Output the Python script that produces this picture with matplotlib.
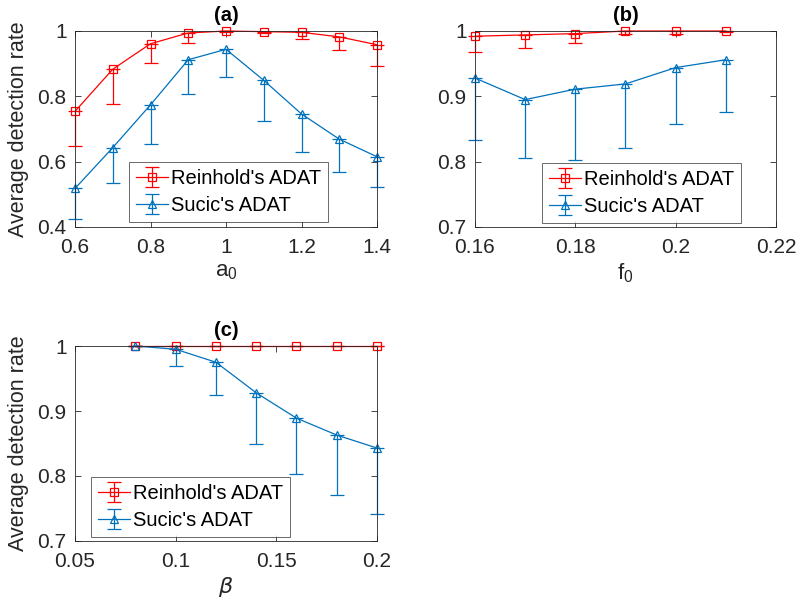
import numpy as np
import matplotlib
matplotlib.use("Agg")
import matplotlib.pyplot as plt
from matplotlib.ticker import FuncFormatter

plt.rcParams['font.family'] = ['Liberation Sans', 'DejaVu Sans']
plt.rcParams['mathtext.fontset'] = 'dejavusans'

RED = '#FF0000'
BLUE = '#0072BD'

# ---- panel (a): a0 ----
a_x = [0.6, 0.7, 0.8, 0.9, 1.0, 1.1, 1.2, 1.3, 1.4]
a_rein = [0.754, 0.883, 0.961, 0.994, 1.0, 0.998, 0.996, 0.982, 0.958]
a_rein_low = [0.648, 0.777, 0.903, 0.964, 0.998, 0.995, 0.974, 0.941, 0.893]
a_sucic = [0.518, 0.643, 0.774, 0.912, 0.944, 0.849, 0.746, 0.669, 0.615]
a_sucic_low = [0.423, 0.536, 0.655, 0.807, 0.859, 0.726, 0.629, 0.568, 0.521]

# ---- panel (b): f0 ----
b_x = [0.16, 0.17, 0.18, 0.19, 0.20, 0.21]
b_rein = [0.992, 0.994, 0.996, 1.0, 1.0, 1.0]
b_rein_low = [0.968, 0.974, 0.982, 0.995, 0.995, 0.999]
b_sucic = [0.928, 0.895, 0.911, 0.919, 0.944, 0.956]
b_sucic_low = [0.833, 0.805, 0.802, 0.821, 0.857, 0.876]

# ---- panel (c): beta ----
c_x = [0.08, 0.10, 0.12, 0.14, 0.16, 0.18, 0.20]
c_rein = [1.0, 1.0, 1.0, 1.0, 1.0, 1.0, 1.0]
c_rein_low = [1.0, 1.0, 1.0, 1.0, 1.0, 1.0, 1.0]
c_sucic = [1.0, 0.995, 0.975, 0.928, 0.889, 0.863, 0.843]
c_sucic_low = [1.0, 0.970, 0.924, 0.850, 0.803, 0.770, 0.742]

W, H = 804, 616
fig = plt.figure(figsize=(W / 100, H / 100), dpi=100)

FS_TICK = 15
FS_LEG = 14.5
FS_LAB = 15.5
DARK = '#262626'


def gfmt(v, pos):
    return '%g' % round(v, 6)


def panel(rect, x, rein, rein_low, sucic, sucic_low, xlim, ylim, xticks, yticks,
          title, xlabel, legend_rect):
    ax = fig.add_axes(rect)
    r = np.array(rein)
    s = np.array(sucic)
    ax.errorbar(x, r, yerr=[r - np.array(rein_low), np.zeros_like(r)], color=RED,
                marker='s', markersize=6, mfc='none', mew=0.9, lw=0.9,
                elinewidth=0.9, capsize=5, capthick=0.9, label="Reinhold's ADAT",
                clip_on=False)
    ax.errorbar(x, s, yerr=[s - np.array(sucic_low), np.zeros_like(s)], color=BLUE,
                marker='^', markersize=6, mfc='none', mew=0.9, lw=0.9,
                elinewidth=0.9, capsize=5, capthick=0.9, label="Sucic's ADAT",
                clip_on=False)
    ax.set_xlim(xlim)
    ax.set_ylim(ylim)
    ax.set_xticks(xticks)
    ax.set_yticks(yticks)
    ax.xaxis.set_major_formatter(FuncFormatter(gfmt))
    ax.yaxis.set_major_formatter(FuncFormatter(gfmt))
    ax.tick_params(direction='in', top=True, right=True, labelsize=FS_TICK,
                   length=4, width=0.6, colors=DARK, pad=6)
    ax.tick_params(axis='x', pad=8)
    for sp in ax.spines.values():
        sp.set_linewidth(0.6)
        sp.set_color(DARK)
    ax.set_title(title, fontsize=14.5, fontweight='bold', pad=7)
    ax.set_xlabel(xlabel, fontsize=16, color=DARK, labelpad=3)
    leg = ax.legend(loc='lower left', bbox_to_anchor=legend_rect, fontsize=FS_LEG,
                    frameon=True, fancybox=False, edgecolor=DARK,
                    borderpad=0.35, handlelength=1.6, handletextpad=0.15,
                    labelspacing=0.4, borderaxespad=0)
    leg.get_frame().set_linewidth(0.6)
    return ax


def frect(l, t, r, b):
    return [l / W, 1 - b / H, (r - l) / W, (b - t) / H]


ax_a = panel(frect(75, 31, 377, 227), a_x, a_rein, a_rein_low, a_sucic, a_sucic_low,
             (0.6, 1.4), (0.4, 1.0), [0.6, 0.8, 1.0, 1.2, 1.4], [0.4, 0.6, 0.8, 1.0],
             '(a)', '$\\mathregular{a_0}$', (54 / 302, 5 / 196))
ax_a.set_ylabel('Average detection rate', fontsize=FS_LAB, color=DARK, labelpad=6)

ax_b = panel(frect(475, 31, 776, 227), b_x, b_rein, b_rein_low, b_sucic, b_sucic_low,
             (0.16, 0.22), (0.7, 1.0), [0.16, 0.18, 0.20, 0.22], [0.7, 0.8, 0.9, 1.0],
             '(b)', '$\\mathregular{f_0}$', (67 / 301, 4 / 196))

ax_c = panel(frect(75, 346, 377, 541), c_x, c_rein, c_rein_low, c_sucic, c_sucic_low,
             (0.05, 0.2), (0.7, 1.0), [0.05, 0.1, 0.15, 0.2], [0.7, 0.8, 0.9, 1.0],
             '(c)', '$\\beta$', (16 / 302, 4 / 195))
ax_c.set_ylabel('Average detection rate', fontsize=FS_LAB, color=DARK, labelpad=6)

fig.savefig('out.png', dpi=100)
